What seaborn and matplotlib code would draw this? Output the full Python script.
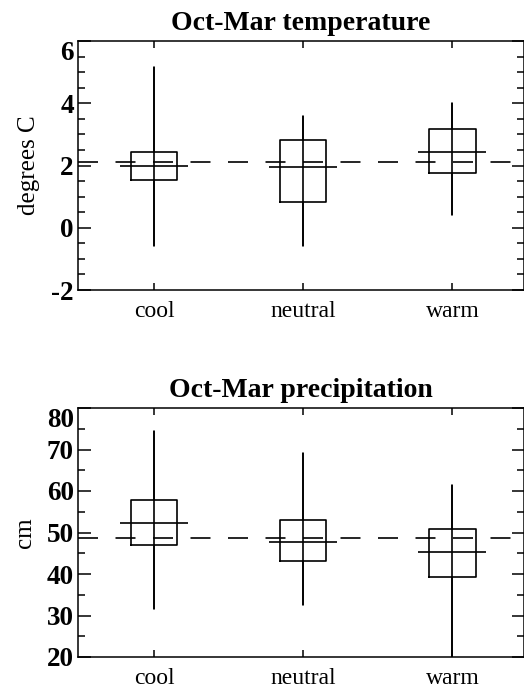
import matplotlib.pyplot as plt
import numpy as np
import pandas as pd
import seaborn as sns
from matplotlib.ticker import MultipleLocator, NullLocator

# categories (ENSO phase)
categories = ['cool', 'neutral', 'warm']

# Oct-Mar temperature (degrees C): whisker low, box low, median, box high, whisker high
temp_lo = [-0.60, -0.60, 0.41]
temp_q1 = [1.52, 0.83, 1.76]
temp_med = [1.97, 1.95, 2.42]
temp_q3 = [2.42, 2.83, 3.17]
temp_hi = [5.15, 3.60, 4.01]
temp_mean = 2.10
temp_ticks = [-2, 0, 2, 4, 6]

# Oct-Mar precipitation (cm)
prec_lo = [31.6, 32.5, 19.0]
prec_q1 = [46.9, 43.2, 39.3]
prec_med = [52.4, 47.6, 45.4]
prec_q3 = [57.8, 52.9, 50.9]
prec_hi = [74.5, 69.2, 61.5]
prec_mean = 48.6
prec_ticks = [20, 30, 40, 50, 60, 70, 80]

sns.set_theme(style='ticks')
plt.rcParams['font.family'] = ['Liberation Serif', 'DejaVu Serif']
plt.rcParams['axes.linewidth'] = 1.1
plt.rcParams['axes.unicode_minus'] = False
plt.rcParams['text.color'] = 'black'
plt.rcParams['axes.labelcolor'] = 'black'
plt.rcParams['xtick.color'] = 'black'
plt.rcParams['ytick.color'] = 'black'


def draw_panel(ax, title, ylabel, lo, q1, med, q3, hi, mean, yticks, minor):
    pos = np.arange(len(categories))
    stats = [dict(whislo=a, q1=b, med=c, q3=d, whishi=e, fliers=[])
             for a, b, c, d, e in zip(lo, q1, med, q3, hi)]
    line = dict(color='black', linewidth=1.2)
    # through-line of the whiskers (visible inside the box too)
    ax.vlines(pos, lo, hi, color='black', linewidth=1.2, zorder=3)
    ax.bxp(stats, positions=pos, widths=0.31, showcaps=False, showfliers=False,
           boxprops=line, whiskerprops=line,
           medianprops=dict(linewidth=0), manage_ticks=False)
    # long median bars
    df = pd.DataFrame({'x': pos, 'median': med})
    sns.scatterplot(data=df, x='x', y='median', marker='_', s=2350,
                    color='black', linewidth=1.2, ax=ax, zorder=4)
    ax.axhline(mean, color='black', linewidth=1.2,
               linestyle=(0, (12, 10.5)), zorder=2)

    ax.set_xlim(-0.51, 2.48)
    ax.set_ylim(yticks[0], yticks[-1])
    ax.set_xticks(pos)
    ax.set_xticklabels(categories, fontsize=17)
    ax.xaxis.set_minor_locator(NullLocator())
    ax.set_yticks(yticks)
    ax.set_yticklabels([str(t) for t in yticks], fontsize=19.5, fontweight='bold')
    ax.yaxis.set_minor_locator(MultipleLocator(minor))
    # top label sits just inside the frame
    ax.get_yticklabels()[-1].set_verticalalignment('top')
    ax.tick_params(which='both', direction='in', top=True, right=True,
                   width=1.1, color='black')
    ax.tick_params(axis='x', which='major', length=5, pad=8)
    ax.tick_params(axis='y', which='major', length=9, pad=3)
    ax.tick_params(axis='y', which='minor', length=5)
    ax.set_xlabel('')
    ax.set_ylabel(ylabel, fontsize=18, labelpad=8)
    ax.set_title(title, fontsize=20, fontweight='bold', pad=8)
    for s in ax.spines.values():
        s.set_color('black')


fig = plt.figure(figsize=(5.24, 6.90), dpi=100)
ax1 = fig.add_axes([78 / 524, 1 - 290 / 690, 446 / 524, 249 / 690])
ax2 = fig.add_axes([78 / 524, 1 - 657 / 690, 446 / 524, 249 / 690])

draw_panel(ax1, 'Oct-Mar temperature', 'degrees C',
           temp_lo, temp_q1, temp_med, temp_q3, temp_hi, temp_mean,
           temp_ticks, 0.5)
draw_panel(ax2, 'Oct-Mar precipitation', 'cm',
           prec_lo, prec_q1, prec_med, prec_q3, prec_hi, prec_mean,
           prec_ticks, 5)

fig.savefig('out.png', dpi=100)
